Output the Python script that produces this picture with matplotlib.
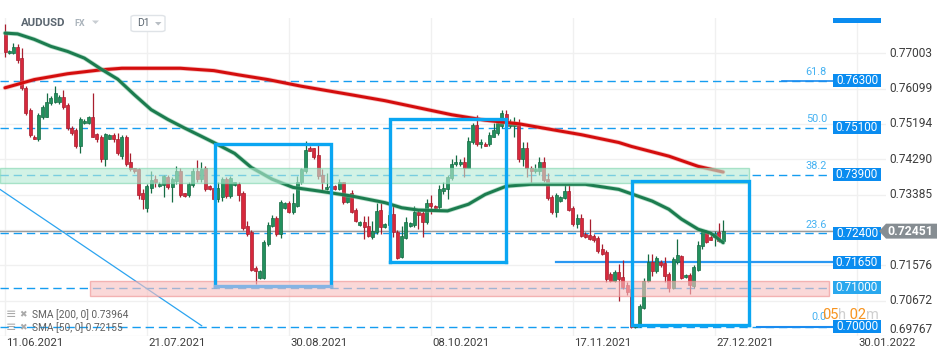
import matplotlib
matplotlib.use('Agg')
import matplotlib.pyplot as plt
from matplotlib.patches import Rectangle, Polygon, FancyBboxPatch
import numpy as np

plt.rcParams['font.family'] = ['Roboto', 'DejaVu Sans']

# --- daily candles AUDUSD (D1) ---------------------------------------
opens = [.7752, .7701, .7701, .7717, .7689, .7612, .7554, .7487, .7482, .7538,
         .7538, .7574, .7576, .7576, .7589, .7569, .7510, .7503, .7464, .7523,
         .7523, .7536, .7495, .7487, .7429, .7482, .7490, .7482, .7438, .7485,
         .7423, .7406, .7403, .7342, .7304, .7355, .7378, .7360, .7362, .7383,
         .7357, .7373, .7398, .7342, .7337, .7362, .7398, .7378, .7406, .7360,
         .7355, .7327, .7332, .7378, .7334, .7363, .7367, .7342, .7258, .7242,
         .7151, .7125, .7125, .7212, .7258, .7278, .7237, .7304, .7316, .7293,
         .7309, .7370, .7398, .7459, .7457, .7439, .7388, .7352, .7357, .7360,
         .7352, .7370, .7319, .7344, .7298, .7260, .7268, .7258, .7230, .7242,
         .7298, .7255, .7260, .7288, .7242, .7179, .7227, .7258, .7260, .7293,
         .7291, .7268, .7316, .7309, .7306, .7347, .7352, .7380, .7416, .7416,
         .7423, .7408, .7472, .7518, .7467, .7469, .7467, .7487, .7497, .7513,
         .7546, .7513, .7513, .7523, .7429, .7459, .7406, .7398, .7398, .7423,
         .7378, .7332, .7293, .7321, .7329, .7347, .7304, .7263, .7278, .7237,
         .7235, .7232, .7227, .7199, .7191, .7135, .7117, .7140, .7128, .7107,
         .7097, .7000, .7003, .7049, .7117, .7166, .7143, .7166, .7163, .7135,
         .7100, .7166, .7181, .7128, .7133, .7105, .7146, .7207, .7242, .7230,
         .7230, .7242, .7219]
highs = [.7775, .7709, .7727, .7724, .7714, .7617, .7561, .7490, .7548, .7569,
         .7599, .7592, .7617, .7594, .7607, .7574, .7515, .7508, .7536, .7531,
         .7541, .7599, .7497, .7490, .7497, .7495, .7497, .7497, .7490, .7490,
         .7444, .7408, .7408, .7352, .7365, .7398, .7388, .7370, .7390, .7390,
         .7383, .7413, .7406, .7344, .7372, .7408, .7426, .7421, .7411, .7362,
         .7357, .7370, .7383, .7383, .7385, .7372, .7372, .7347, .7270, .7248,
         .7156, .7146, .7222, .7268, .7286, .7283, .7324, .7319, .7321, .7342,
         .7385, .7408, .7477, .7462, .7459, .7467, .7403, .7395, .7365, .7362,
         .7378, .7372, .7339, .7350, .7304, .7270, .7283, .7283, .7270, .7316,
         .7316, .7265, .7296, .7311, .7248, .7258, .7281, .7268, .7309, .7301,
         .7296, .7327, .7337, .7311, .7362, .7372, .7388, .7429, .7439, .7429,
         .7434, .7485, .7523, .7543, .7480, .7472, .7500, .7523, .7533, .7556,
         .7556, .7531, .7536, .7531, .7472, .7472, .7411, .7416, .7434, .7434,
         .7395, .7337, .7342, .7334, .7362, .7362, .7309, .7288, .7288, .7242,
         .7276, .7237, .7232, .7212, .7197, .7140, .7146, .7161, .7171, .7115,
         .7107, .7008, .7059, .7125, .7186, .7186, .7181, .7171, .7179, .7140,
         .7179, .7225, .7184, .7135, .7138, .7158, .7219, .7248, .7248, .7235,
         .7245, .7265, .7273]
lows = [.7691, .7699, .7699, .7676, .7607, .7543, .7485, .7480, .7477, .7533,
        .7536, .7569, .7574, .7571, .7559, .7505, .7490, .7459, .7446, .7520,
        .7520, .7485, .7474, .7421, .7411, .7480, .7474, .7439, .7429, .7413,
        .7398, .7395, .7327, .7301, .7294, .7344, .7357, .7357, .7332, .7352,
        .7319, .7367, .7332, .7332, .7332, .7357, .7370, .7372, .7347, .7350,
        .7324, .7319, .7321, .7329, .7329, .7360, .7321, .7248, .7232, .7143,
        .7110, .7123, .7123, .7207, .7255, .7232, .7227, .7301, .7291, .7288,
        .7306, .7365, .7395, .7449, .7429, .7378, .7347, .7350, .7350, .7350,
        .7350, .7314, .7316, .7291, .7268, .7258, .7225, .7230, .7225, .7237,
        .7237, .7253, .7250, .7230, .7174, .7176, .7225, .7255, .7255, .7250,
        .7230, .7263, .7288, .7301, .7301, .7339, .7327, .7375, .7411, .7413,
        .7383, .7406, .7469, .7462, .7459, .7462, .7464, .7485, .7492, .7510,
        .7510, .7510, .7487, .7421, .7413, .7383, .7367, .7393, .7390, .7372,
        .7324, .7288, .7281, .7319, .7327, .7296, .7258, .7253, .7230, .7227,
        .7222, .7217, .7189, .7184, .7115, .7115, .7115, .7066, .7097, .7082,
        .6998, .6998, .7000, .7046, .7115, .7130, .7138, .7153, .7115, .7089,
        .7097, .7161, .7123, .7125, .7084, .7100, .7143, .7199, .7214, .7222,
        .7207, .7217, .7217]
closes = [.7704, .7707, .7717, .7684, .7612, .7548, .7490, .7482, .7543, .7564,
          .7576, .7587, .7599, .7589, .7564, .7510, .7497, .7464, .7533, .7528,
          .7536, .7487, .7480, .7429, .7495, .7492, .7480, .7444, .7487, .7418,
          .7403, .7398, .7337, .7327, .7360, .7375, .7370, .7367, .7385, .7357,
          .7378, .7398, .7337, .7334, .7367, .7398, .7378, .7403, .7352, .7352,
          .7327, .7355, .7378, .7334, .7380, .7370, .7337, .7253, .7237, .7146,
          .7143, .7143, .7217, .7260, .7278, .7237, .7319, .7316, .7293, .7316,
          .7370, .7403, .7454, .7451, .7436, .7385, .7370, .7357, .7360, .7352,
          .7370, .7319, .7334, .7293, .7270, .7268, .7255, .7232, .7245, .7296,
          .7255, .7263, .7286, .7242, .7176, .7232, .7268, .7265, .7293, .7286,
          .7268, .7316, .7309, .7304, .7352, .7355, .7383, .7418, .7423, .7423,
          .7408, .7477, .7518, .7467, .7472, .7464, .7492, .7503, .7523, .7548,
          .7513, .7523, .7523, .7429, .7459, .7406, .7398, .7403, .7423, .7375,
          .7329, .7293, .7337, .7332, .7347, .7298, .7263, .7278, .7232, .7230,
          .7225, .7222, .7194, .7186, .7123, .7117, .7140, .7123, .7102, .7089,
          .7000, .7005, .7054, .7117, .7166, .7143, .7176, .7158, .7130, .7100,
          .7174, .7184, .7125, .7133, .7107, .7153, .7209, .7242, .7217, .7222,
          .7237, .7219, .7245]

# moving averages (bar index, value)
sma200_idx = [0, 7, 15, 23, 28, 42, 50, 56, 63, 71, 83, 91, 99, 107, 115, 123,
              131, 138, 147, 150, 159, 166, 172]
sma200_val = [.7612, .7633, .7648, .7658, .7662, .7662, .7656, .7645, .7633,
              .7616, .7594, .7579, .7561, .7543, .7529, .7520, .7505, .7492,
              .7472, .7462, .7437, .7411, .73964]
sma50_idx = [0, 3, 7, 11, 15, 19, 23, 27, 31, 35, 39, 43, 47, 50, 55, 59, 64,
             69, 75, 83, 91, 95, 99, 106, 111, 115, 120, 126, 139, 147, 155,
             159, 162, 166, 169, 172]
sma50_val = [.7752, .7750, .7736, .7718, .7705, .7688, .7660, .7634, .7594,
             .7556, .7531, .7509, .7488, .7472, .7444, .7408, .7378, .7357,
             .7348, .7335, .7318, .7305, .7299, .7297, .7314, .7339, .7360,
             .7365, .7365, .7352, .7322, .7301, .7276, .7250, .7240, .72155]

date_ticks = [0, 34, 68, 102, 136, 170, 204]
date_labels = ['11.06.2021', '21.07.2021', '30.08.2021', '08.10.2021',
               '17.11.2021', '27.12.2021', '30.01.2022']
price_ticks = [0.77003, 0.76099, 0.75194, 0.74290, 0.73385, 0.72481,
               0.71576, 0.70672, 0.69767]

fib_levels = [0.763, 0.751, 0.739, 0.724, 0.700]
fib_names = ['61.8', '50.0', '38.2', '23.6', '0.0']
dashed_levels = [0.763, 0.751, 0.739, 0.724, 0.710, 0.700]
tag_levels = [0.763, 0.751, 0.739, 0.724, 0.7165, 0.710, 0.700]
tag_labels = ['0.76300', '0.75100', '0.73900', '0.72400', '0.71650',
              '0.71000', '0.70000']
last_price = 0.72451
sma200_last = 0.73964
sma50_last = 0.72155

green_zone = (0.7368, 0.7406)
red_zone = (0.7080, 0.7117)
boxes = [(50.2, 78.1, 0.7105, 0.7469),
         (92.1, 120.0, 0.7166, 0.7531),
         (150.2, 178.1, 0.7005, 0.7374)]
trend_x = [-1.2, 47.1]
trend_y = [0.7352, 0.7003]

# --- figure ----------------------------------------------------------
W, H = 950, 361
fig = plt.figure(figsize=(W / 100, H / 100), dpi=100)
AX_W = 886
ax = fig.add_axes([0, 1 - 336 / H, AX_W / W, 318 / H])
ax.set_xlim(-1.2, 211)
ax.set_ylim(0.697966, 0.779067)
for s in ax.spines.values():
    s.set_visible(False)
ax.set_xticks(date_ticks)
ax.set_yticks(price_ticks)
ax.tick_params(length=0, labelbottom=False, labelleft=False)
ax.grid(True, color='#f0f0f0', lw=1.0, zorder=0)

def fx(px):
    return px / W

def fy(py):
    return 1 - py / H

PX = 1 / 3921.0  # price per pixel
yt = ax.get_yaxis_transform()
xt = ax.get_xaxis_transform()

# candles
o = np.array(opens); c = np.array(closes)
hi = np.maximum(np.array(highs), np.maximum(o, c))
lo = np.minimum(np.array(lows), np.minimum(o, c))
idx = np.arange(len(c))
up = c >= o
bot = np.minimum(o, c)
bh = np.maximum(np.abs(c - o), 1.2 * PX)
for mask, fc, ec in [(up, '#22905d', '#156b43'), (~up, '#d7283c', '#a81e2e')]:
    ax.vlines(idx[mask], lo[mask], hi[mask], color=ec, lw=0.9, zorder=3)
    ax.bar(idx[mask], bh[mask], bottom=bot[mask], width=0.72, color=fc,
           edgecolor=ec, lw=0.5, zorder=3)

# dashed levels
for v in dashed_levels:
    ax.axhline(v, 0, 828 / AX_W, color='#159df0', lw=1.0, dashes=(6, 3.5), zorder=2)
ax.axhline(0.763, 782 / AX_W, 833 / AX_W, color='#1a8cf0', lw=1.2, zorder=2)
ax.axhline(0.7165, 556 / AX_W, 833 / AX_W, color='#2a98f2', lw=1.6, zorder=2)
ax.axhline(0.700, 757 / AX_W, 833 / AX_W, color='#1a8cf0', lw=1.5, zorder=2)
ax.axhline(last_price, 0, 1, color='#9b9b9b', lw=1.0, zorder=2)

# trend line
ax.plot(trend_x, trend_y, color='#2ca4f0', lw=0.9, zorder=2)

# moving averages
ax.plot(sma200_idx, sma200_val, color='#ef8080', lw=3.3, alpha=0.5, zorder=4,
        solid_capstyle='round')
ax.plot(sma200_idx, sma200_val, color='#d40d0d', lw=2.2, zorder=4,
        solid_capstyle='round')
ax.plot(sma50_idx, sma50_val, color='#6fbf95', lw=3.3, alpha=0.5, zorder=4,
        solid_capstyle='round')
ax.plot(sma50_idx, sma50_val, color='#1c7c4f', lw=2.2, zorder=4,
        solid_capstyle='round')

# zones
ax.axhspan(green_zone[0], green_zone[1], 0, 749 / AX_W, fc='#b7ebd5',
           ec='#7fd6ae', lw=1.0, alpha=0.62, zorder=5)
ax.axhspan(red_zone[0], red_zone[1], 90 / AX_W, 829 / AX_W, fc='#f7c1c1',
           ec='#ef9090', lw=1.0, alpha=0.62, zorder=5)

# analysis boxes
for k, (x0, x1, y0, y1) in enumerate(boxes):
    ax.plot([x0, x0, x1, x1], [y0, y1, y1, y0], color='#0aa6f2', lw=2.4,
            zorder=6, solid_joinstyle='miter')
    ax.plot([x0, x1], [y0, y0], color='#84b4e4' if k == 0 else '#0aa6f2',
            lw=2.4, zorder=6, solid_capstyle='projecting')

# fib labels
fib_off = [8.5, 8.5, 8.5, 8.0, 10.0]
for v, n, off in zip(fib_levels, fib_names, fib_off):
    ax.text(827 / AX_W, v + off * PX, n, transform=yt, ha='right', va='center',
            color='#45b2f2', fontsize=7.8, zorder=7)

# price tags
for v, lab in zip(tag_levels, tag_labels):
    col = '#29a8ee' if lab == '0.71000' else '#0a8cf0'
    ax.add_patch(Rectangle((833 / AX_W, v - 6.5 * PX), 48 / AX_W, 13 * PX,
                           transform=yt, fc=col, ec='none', clip_on=False, zorder=8))
    ax.text(857 / AX_W, v, lab, transform=yt, ha='center', va='center',
            color='white', fontsize=8.4, clip_on=False, zorder=9)

# right axis labels
for v in price_ticks:
    if abs(v - 0.72481) < 1e-6:
        continue
    yy = v if v > 0.6985 else 0.69925
    ax.text(889 / AX_W, yy, '%.5f' % v, transform=yt, ha='left', va='center',
            color='#3d3d3d', fontsize=8.6, clip_on=False)

# last price tag
pts = [(879, 0), (886, 7.5), (937, 7.5), (937, -7.5), (886, -7.5)]
ax.add_patch(Polygon([(px / AX_W, last_price + dy * PX) for px, dy in pts],
                     closed=True, transform=yt, fc='#868d92', ec='none',
                     clip_on=False, zorder=8))
ax.text(910 / AX_W, last_price, '%.5f' % last_price, transform=yt, ha='center',
        va='center', color='white', fontsize=8.8, fontweight='bold',
        clip_on=False, zorder=9)

# date labels
for t, lab in zip(date_ticks, date_labels):
    ax.text(t + 0.3, -0.022, lab, transform=xt, ha='left', va='center',
            color='#3d3d3d', fontsize=8.2, clip_on=False)

# header
fig.text(fx(21), fy(23), 'AUDUSD', fontsize=8.2, fontweight='bold',
         color='#5b6670', va='center')
fig.text(fx(74), fy(23.5), 'FX', fontsize=6.5, fontweight='bold',
         color='#aab3bb', va='center')
fig.add_artist(Polygon([(fx(92), fy(20.5)), (fx(99), fy(20.5)), (fx(95.5), fy(24))],
                       closed=True, transform=fig.transFigure, fc='#c8cdd2', ec='none'))
fig.add_artist(FancyBboxPatch((fx(131), fy(31.5)), 34 / W, 16 / H,
                              boxstyle='round,pad=0,rounding_size=0.004',
                              transform=fig.transFigure, fc='white',
                              ec='#dfe3e7', lw=1.0))
fig.text(fx(137), fy(23.5), 'D1', fontsize=7.5, color='#5b6670', va='center')
fig.add_artist(Polygon([(fx(155), fy(22)), (fx(161.5), fy(22)), (fx(158.2), fy(25.5))],
                       closed=True, transform=fig.transFigure, fc='#b8bec4', ec='none'))
fig.add_artist(Rectangle((fx(833), fy(23)), 48 / W, 5 / H,
                         transform=fig.transFigure, fc='#0a8cf0', ec='none'))

# indicator legend
for yy, txt in [(314.3, 'SMA [200, 0] %.5f' % sma200_last),
                (327.7, 'SMA [50, 0] %.5f' % sma50_last)]:
    fig.text(fx(6), fy(yy), '\u2261', fontsize=9, color='#a9a9a9', va='center',
             family='DejaVu Sans')
    fig.text(fx(19.5), fy(yy), '\u2716', fontsize=6.5, color='#a9a9a9',
             va='center', family='DejaVu Sans')
    fig.text(fx(32), fy(yy), txt, fontsize=7.3, color='#5f5f5f', va='center')

# candle timer
t1 = fig.text(fx(822), fy(315), '05', fontsize=10.5, color='#f7931e', va='center')
t2 = ax.annotate('h', xy=(1, 0), xycoords=t1, va='bottom', ha='left',
                 fontsize=10.5, color='#cfcfcf', annotation_clip=False)
t3 = ax.annotate(' 02', xy=(1, 0), xycoords=t2, va='bottom', ha='left',
                 fontsize=10.5, color='#f7931e', annotation_clip=False)
ax.annotate('m', xy=(1, 0), xycoords=t3, va='bottom', ha='left',
            fontsize=10.5, color='#cfcfcf', annotation_clip=False)

fig.savefig('out.png', dpi=100)
